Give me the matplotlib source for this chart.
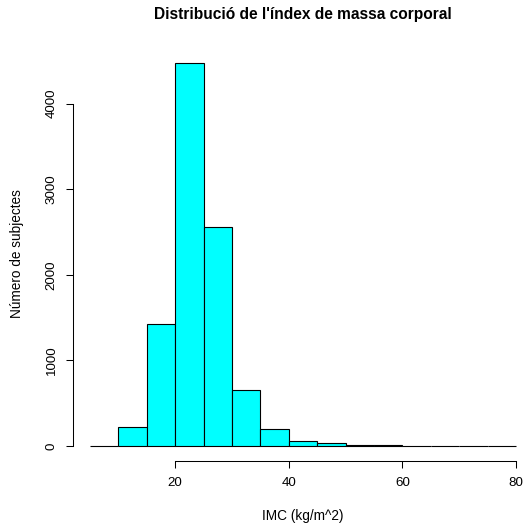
import matplotlib.pyplot as plt
import numpy as np

# BMI histogram: bin edges (kg/m^2) and subject counts per bin
bin_edges = [5, 10, 15, 20, 25, 30, 35, 40, 45, 50, 55, 60, 65, 70, 75, 80]
counts = [2, 225, 1423, 4476, 2561, 655, 203, 62, 31, 15, 6, 5, 2, 1, 3]
x_ticks = [20, 40, 60, 80]
y_ticks = [0, 1000, 2000, 3000, 4000]

plt.rcParams['font.family'] = ['Liberation Sans', 'DejaVu Sans']

W, H = 528, 531
fig = plt.figure(figsize=(W / 100, H / 100), dpi=100)

# plot region in pixels (R-style 4% padding around the data range)
left_px, right_px = 73, 533
top_px, bottom_px = 47.7, 461.3
ax = fig.add_axes([left_px / W, 1 - bottom_px / H,
                   (right_px - left_px) / W, (bottom_px - top_px) / H])

edges = np.array(bin_edges)
ax.bar(edges[:-1], counts, width=np.diff(edges), align='edge',
       color='cyan', edgecolor='black', linewidth=0.8)

xr = edges[-1] - edges[0]
ax.set_xlim(edges[0] - 0.04 * xr, edges[-1] + 0.04 * xr)
ymax = max(counts)
ax.set_ylim(-0.04 * ymax, 1.04 * ymax)

ax.set_xticks(x_ticks)
ax.set_yticks(y_ticks)
ax.spines['top'].set_visible(False)
ax.spines['right'].set_visible(False)
ax.spines['left'].set_bounds(y_ticks[0], y_ticks[-1])
ax.spines['bottom'].set_bounds(x_ticks[0], x_ticks[-1])
ax.spines['left'].set_linewidth(0.75)
ax.spines['bottom'].set_linewidth(0.75)
ax.tick_params(length=5, width=0.75, labelsize=9.6, pad=6)
ax.tick_params(axis='y', labelrotation=90)
for lab in ax.get_yticklabels():
    lab.set_va('center')

fig.text(303 / W, 1 - 15 / H, "Distribució de l'índex de massa corporal",
         ha='center', va='center', fontsize=11.2, fontweight='bold')
fig.text(303 / W, 1 - 516 / H, 'IMC (kg/m^2)', ha='center', va='center',
         fontsize=9.8)
fig.text(17 / W, 1 - 254 / H, 'Número de subjectes', ha='center',
         va='center', rotation=90, fontsize=9.8)

fig.savefig('out.png', dpi=100)
